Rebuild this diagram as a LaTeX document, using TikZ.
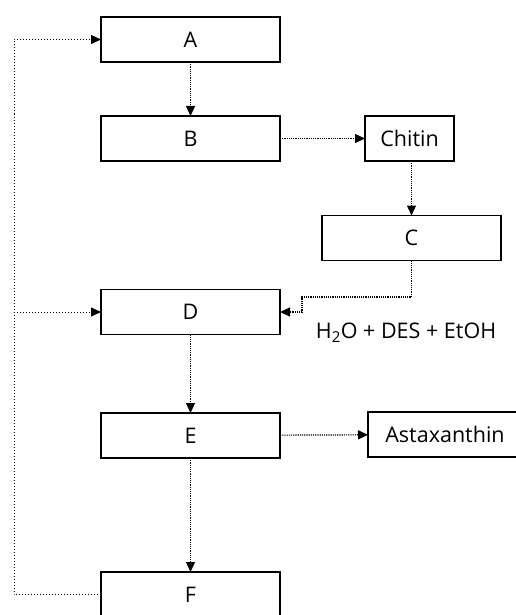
\documentclass[tikz,border=0pt]{standalone}
\usepackage{fontspec}
\setmainfont{Open Sans}
\usetikzlibrary{arrows.meta}
\begin{document}
\begin{tikzpicture}[x=1pt,y=-1pt,
  stepbox/.style={draw, line width=1.2pt, inner sep=0pt, outer sep=0pt,
    minimum height=45pt, font=\fontsize{21.5}{24}\selectfont},
  wide/.style={stepbox, minimum width=179pt},
  tip/.style={-{Triangle[length=10pt,width=9pt]}},
  flow/.style={densely dotted, line width=1.2pt, tip},
  feed/.style={dotted, line width=1pt}]
\useasboundingbox (0,0) rectangle (515,615);

% main column
\node[wide] (A) at (190.5,39.5) {A};
\node[wide] (B) at (190.5,138.5) {B};
\node[wide] (D) at (190.5,312) {D};
\node[wide] (E) at (190.5,435.5) {E};
\node[wide] (F) at (190.5,594.5) {F};

% side branch
\node[stepbox, minimum width=89pt] (Chitin) at (409.5,138.5) {Chitin};
\node[wide] (C) at (411.5,238) {C};
\node[stepbox, minimum width=154pt] (Ast) at (445,434.5) {Astaxanthin};

\node[font=\fontsize{21.5}{24}\selectfont] (sol) at (406,333)
  {H\textsubscript{2}O + DES + EtOH};

% connectors
\draw[flow] (A) -- (B);
\draw[flow] (B) -- (Chitin);
\draw[flow] (Chitin.south -| C.north) -- (C.north);
\coordinate (bend) at (302,297);
\draw[flow] (C.south) |- (bend) |- (D.east);
\draw[flow] (D) -- (E);
\draw[flow] (E) -- (F);
\draw[flow] (E) -- (Ast);

% recycle loop
\coordinate (loop) at (14,594.5);
\draw[feed, tip] (F.west) -- (loop) |- (A.west);
\draw[feed, tip] (loop |- D.west) -- (D.west);
\end{tikzpicture}
\end{document}
